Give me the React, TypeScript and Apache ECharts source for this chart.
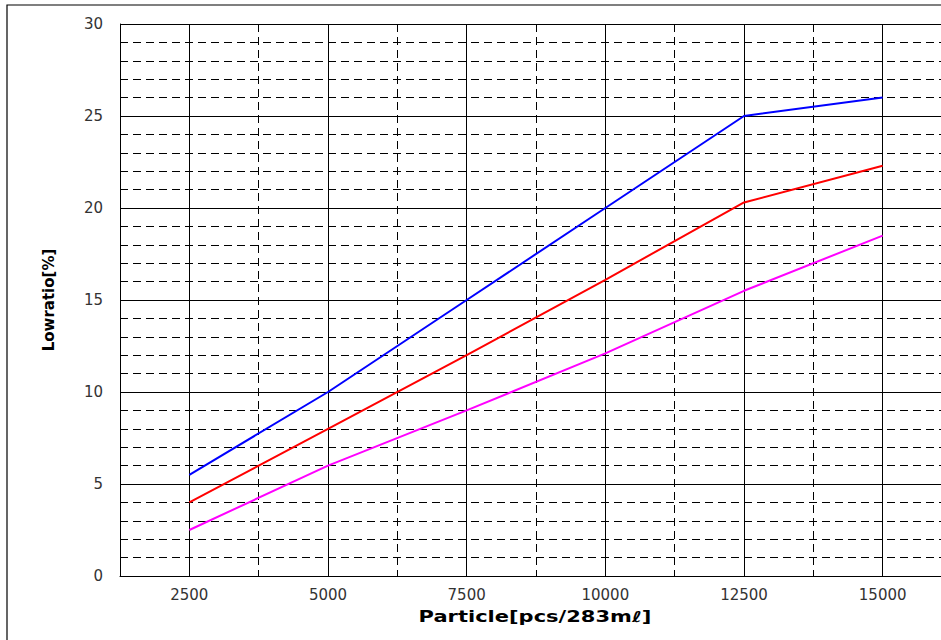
import React, { useEffect, useRef } from "react";
import * as echarts from "echarts";

const particles = [2500, 5000, 7500, 10000, 12500, 15000];
const blueValues = [5.5, 10, 15, 20, 25, 26];
const redValues = [4, 8, 12, 16.1, 20.3, 22.3];
const magentaValues = [2.5, 6, 9, 12.1, 15.5, 18.5];
const xLabelValues = [2500, 5000, 7500, 10000, 12500, 15000];
const yLabelValues = [0, 5, 10, 15, 20, 25, 30];
const xAxisTitle = "Particle[pcs/283mℓ]";
const yAxisTitle = "Lowratio[%]";

const FONT = "DejaVu Sans";
const INNER_W = 1000;

export default function App() {
  const ref = useRef<HTMLDivElement>(null);
  useEffect(() => {
    if (!ref.current) return;
    const chart = echarts.init(ref.current, null, { renderer: "svg" });
    const pairs = (vals: number[]) => particles.map((x, i) => [x, vals[i]]);
    chart.setOption({
      animation: false,
      backgroundColor: "#fff",
      grid: { left: 120, top: 24, bottom: 64, right: INNER_W - 952, containLabel: false },
      xAxis: [
        {
          type: "value",
          min: 1250,
          max: 16250,
          interval: 1250,
          axisLine: { show: true, lineStyle: { color: "#000", width: 1 } },
          axisTick: { show: false },
          axisLabel: {
            fontFamily: FONT,
            fontSize: 15,
            color: "#333",
            margin: 11,
            formatter: (v: number) => (xLabelValues.includes(v) ? String(v) : ""),
          },
          splitLine: {
            show: true,
            lineStyle: { color: ["#000", "transparent"], type: [8, 5], width: 1 },
          },
        },
        {
          type: "value",
          min: 1250,
          max: 16250,
          interval: 1250,
          position: "bottom",
          axisLine: { show: false },
          axisTick: { show: false },
          axisLabel: { show: false },
          splitLine: {
            show: true,
            lineStyle: { color: ["transparent", "#000"], type: "solid", width: 1 },
          },
        },
      ],
      yAxis: {
        type: "value",
        min: 0,
        max: 30,
        interval: 5,
        name: yAxisTitle,
        nameLocation: "middle",
        nameGap: 64,
        nameRotate: 90,
        nameTextStyle: { fontFamily: FONT, fontSize: 15, fontWeight: "bold", color: "#000" },
        axisLine: { show: true, lineStyle: { color: "#000", width: 1 } },
        axisTick: { show: false },
        axisLabel: {
          fontFamily: FONT,
          fontSize: 15,
          color: "#333",
          margin: 17,
          formatter: (v: number) => (yLabelValues.includes(v) ? String(v) : ""),
        },
        splitLine: { show: true, lineStyle: { color: "#000", width: 1 } },
        minorTick: { show: false, splitNumber: 5 },
        minorSplitLine: { show: true, lineStyle: { color: "#000", type: [8, 5], width: 1 } },
      },
      graphic: [
        {
          type: "rect",
          shape: { x: 7, y: 5, width: 1200, height: 1200 },
          style: { fill: "none", stroke: "#000", lineWidth: 1.2 },
          silent: true,
        },
        {
          type: "text",
          x: 535,
          y: 617,
          scaleX: 1.4,
          style: {
            text: xAxisTitle,
            fontFamily: FONT,
            fontSize: 15,
            fontWeight: "bold",
            fill: "#000",
            align: "center",
            verticalAlign: "middle",
          },
          silent: true,
        },
      ],
      series: [
        {
          type: "line",
          name: "blue",
          data: pairs(blueValues),
          symbol: "none",
          lineStyle: { color: "#0000ff", width: 2 },
          itemStyle: { color: "#0000ff" },
        },
        {
          type: "line",
          name: "red",
          data: pairs(redValues),
          symbol: "none",
          lineStyle: { color: "#ff0000", width: 2 },
          itemStyle: { color: "#ff0000" },
        },
        {
          type: "line",
          name: "magenta",
          data: pairs(magentaValues),
          symbol: "none",
          lineStyle: { color: "#ff00ff", width: 2 },
          itemStyle: { color: "#ff00ff" },
        },
      ],
    });
    return () => chart.dispose();
  }, []);
  return (
    <div style={{ position: "fixed", left: 0, top: 0, width: 941, height: 640, overflow: "hidden" }}>
      <div ref={ref} style={{ width: INNER_W, height: 640 }} />
    </div>
  );
}
